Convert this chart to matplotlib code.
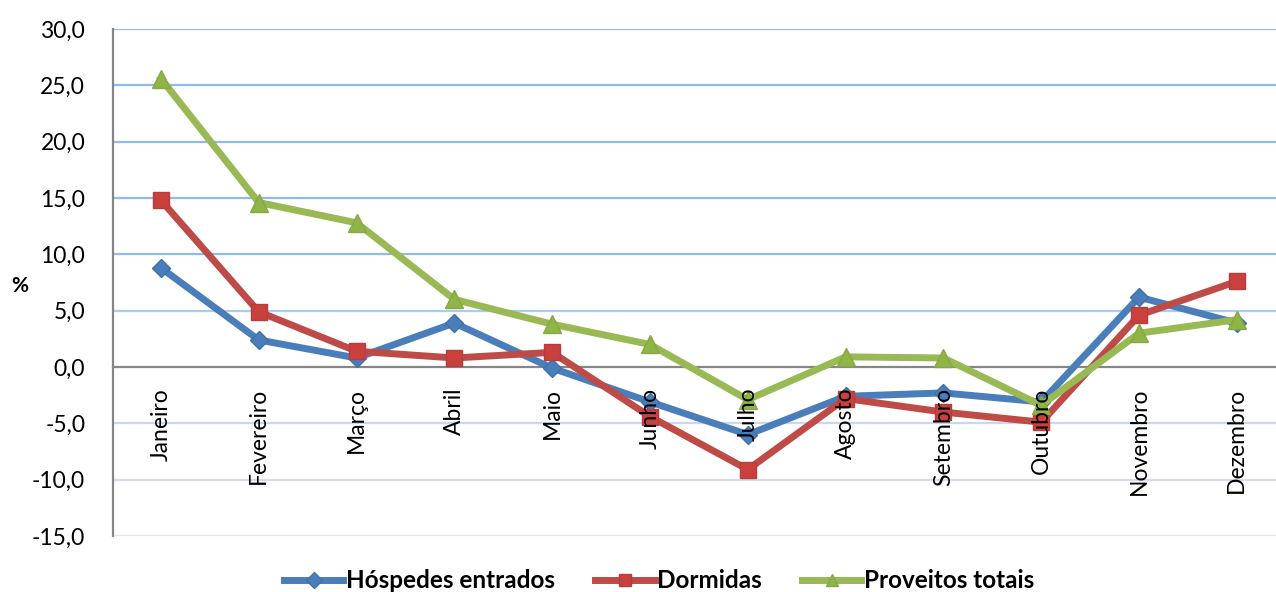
import matplotlib
matplotlib.use("Agg")
import matplotlib.pyplot as plt

plt.rcParams['font.family'] = ['Lato', 'DejaVu Sans']

months = ["Janeiro", "Fevereiro", "Março", "Abril", "Maio", "Junho",
          "Julho", "Agosto", "Setembro", "Outubro", "Novembro", "Dezembro"]
hospedes = [8.8, 2.4, 0.8, 3.9, -0.1, -3.1, -6.0, -2.6, -2.3, -3.1, 6.2, 3.9]
dormidas = [14.8, 4.9, 1.4, 0.8, 1.3, -4.4, -9.1, -2.8, -4.0, -4.9, 4.6, 7.6]
proveitos = [25.6, 14.6, 12.8, 6.0, 3.8, 2.0, -2.9, 0.9, 0.8, -3.4, 3.0, 4.2]
yticks = [-15, -10, -5, 0, 5, 10, 15, 20, 25, 30]

fig = plt.figure(figsize=(12.76, 5.92), dpi=100)
ax = fig.add_axes([113 / 1276, 1 - 536 / 592, 1 - 113 / 1276, (536 - 29) / 592])
ax.set_axisbelow(False)  # month labels sit on top of the lines

# x axis crosses at zero; set before the tick labels (it resets the ticks)
ax.spines['bottom'].set_position(('data', 0))
ax.spines['bottom'].set_color('#868686')
ax.spines['bottom'].set_linewidth(1.6)
ax.spines['bottom'].set_zorder(1.2)
ax.spines['left'].set_color('#868686')
ax.spines['left'].set_linewidth(1.6)
ax.spines['top'].set_visible(False)
ax.spines['right'].set_visible(False)

# horizontal gridlines, fading from blue to lavender below zero
grid_colors = {30: '#8cbcee', 25: '#8cbcee', 20: '#8cbcee', 15: '#8cbcee',
               10: '#8cbcee', 5: '#a8cdf2', -5: '#c9d7f2', -10: '#d9d9f0',
               -15: '#f6dcee'}
for v, c in grid_colors.items():
    ax.axhline(v, color=c, lw=1.6, zorder=1)

x = list(range(len(months)))
ax.plot(x, hospedes, color='#4a7ebb', lw=5, marker='D', ms=9,
        mfc='#4a7ebb', mec='#3f70ab', label='Hóspedes entrados', zorder=2.0)
ax.plot(x, dormidas, color='#be4b48', lw=5, marker='s', ms=12,
        mfc='#c9403d', mec='#b83c39', label='Dormidas', zorder=2.1)
ax.plot(x, proveitos, color='#98b954', lw=5, marker='^', ms=13,
        mfc='#8fb447', mec='#86a943', label='Proveitos totais', zorder=2.2)

ax.set_ylim(-15, 30)
ax.set_xlim(-0.49, 11.40)
ax.set_yticks(yticks)
ax.set_yticklabels([f"{v:.1f}".replace('.', ',') for v in yticks], fontsize=16.5)
ax.tick_params(axis='y', length=0, pad=20)

ax.set_xticks(x)
ax.set_xticklabels(months, rotation=90, fontsize=16.5, va='top', ha='center')
ax.tick_params(axis='x', length=0, pad=15)

fig.text(20 / 1276, 1 - 286 / 592, '%', fontsize=15, fontweight='bold',
         ha='center', va='center')

leg = fig.legend(loc='center', bbox_to_anchor=(659 / 1276, 1 - 581 / 592),
                 ncol=3, frameon=False, handlelength=2.45, handletextpad=0.1,
                 columnspacing=1.65, prop={'weight': 'bold', 'size': 17.5})
for h in leg.legend_handles:
    h.set_markersize(8)

fig.savefig('out.png', dpi=100)
